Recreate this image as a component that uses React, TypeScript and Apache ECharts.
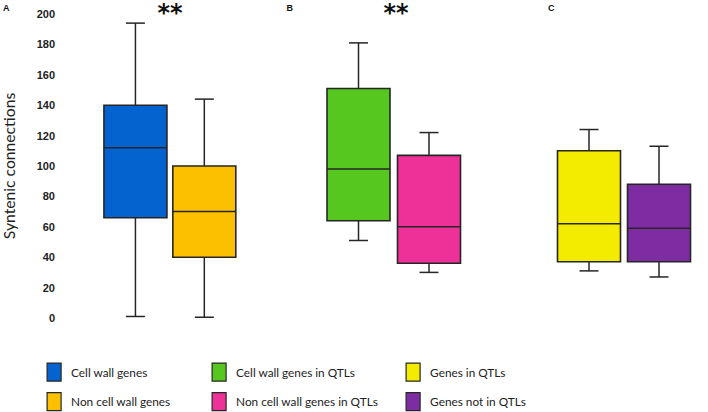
import React, { useEffect, useRef } from "react";
import * as echarts from "echarts";

// [min, Q1, median, Q3, max]
const seriesNames = [
  "Cell wall genes",
  "Non cell wall genes",
  "Cell wall genes in QTLs",
  "Non cell wall genes in QTLs",
  "Genes in QTLs",
  "Genes not in QTLs",
];
const cellWall = [1, 66, 112, 140, 194];
const nonCellWall = [0.5, 40, 70, 100, 144];
const cellWallQTL = [51, 64, 98, 151, 181];
const nonCellWallQTL = [30, 36, 60, 107, 122];
const genesQTL = [31, 37, 62, 110, 124];
const genesNotQTL = [27, 37, 59, 88, 113];
const seriesValues = [cellWall, nonCellWall, cellWallQTL, nonCellWallQTL, genesQTL, genesNotQTL];
const colors = ["#0563D0", "#FDC000", "#56C71E", "#EE3199", "#F3EB00", "#7E2CA1"];
const panelLabels = ["A", "B", "C"];
const yTicks = { min: 0, max: 200, interval: 20 };

const BORDER = "#262626";

function renderBox(params: any, api: any) {
  const x = api.value(0);
  const vals = [api.value(1), api.value(2), api.value(3), api.value(4), api.value(5)];
  const p = vals.map((v: number) => api.coord([x, v]));
  const cx = p[0][0];
  const boxW = 63;
  const capW = 19;
  const color = api.visual("color");
  const lineStyle = { stroke: BORDER, lineWidth: 1.5 };
  return {
    type: "group",
    children: [
      { type: "line", shape: { x1: cx, y1: p[4][1], x2: cx, y2: p[3][1] }, style: lineStyle },
      { type: "line", shape: { x1: cx, y1: p[1][1], x2: cx, y2: p[0][1] }, style: lineStyle },
      { type: "line", shape: { x1: cx - capW / 2, y1: p[4][1], x2: cx + capW / 2, y2: p[4][1] }, style: lineStyle },
      { type: "line", shape: { x1: cx - capW / 2, y1: p[0][1], x2: cx + capW / 2, y2: p[0][1] }, style: lineStyle },
      {
        type: "rect",
        shape: { x: cx - boxW / 2, y: p[3][1], width: boxW, height: p[1][1] - p[3][1] },
        style: { fill: color, stroke: BORDER, lineWidth: 1.6 },
      },
      { type: "line", shape: { x1: cx - boxW / 2, y1: p[2][1], x2: cx + boxW / 2, y2: p[2][1] }, style: lineStyle },
    ],
  };
}

export default function App() {
  const ref = useRef<HTMLDivElement>(null);
  useEffect(() => {
    if (!ref.current) return;
    const chart = echarts.init(ref.current, undefined, { renderer: "svg" });
    const grids = [
      { left: 97.75, width: 141, top: 14, height: 304 },
      { left: 323.25, width: 141, top: 14, height: 304 },
      { left: 554, width: 140, top: 14, height: 304 },
    ];
    const xAxes = grids.map((_, i) => ({
      type: "category",
      gridIndex: i,
      data: [seriesNames[i * 2], seriesNames[i * 2 + 1]],
      show: false,
    }));
    const yAxes = grids.map((_, i) => ({
      type: "value",
      gridIndex: i,
      min: yTicks.min,
      max: yTicks.max,
      interval: yTicks.interval,
      show: i === 0,
      name: i === 0 ? "Syntenic connections" : "",
      nameLocation: "middle",
      nameGap: 84,
      nameTextStyle: { fontFamily: "Lato", fontSize: 15.7, color: "#222" },
      axisLine: { show: false },
      axisTick: { show: false },
      splitLine: { show: false },
      axisLabel: {
        margin: 46,
        fontFamily: "Liberation Sans",
        fontWeight: "bold",
        fontSize: 11,
        color: "#222",
      },
    }));
    const series = seriesNames.map((name, i) => ({
      type: "custom",
      name,
      xAxisIndex: Math.floor(i / 2),
      yAxisIndex: Math.floor(i / 2),
      itemStyle: { color: colors[i], borderColor: BORDER, borderWidth: 1.2 },
      encode: { x: 0, y: [1, 2, 3, 4, 5] },
      data: [[i % 2, ...seriesValues[i]]],
      renderItem: renderBox,
    }));
    const legendLefts = [46.5, 211.5, 405.5];
    const legendTops = [362.5, 392];
    const legends = seriesNames.map((name, i) => ({
      data: [name],
      left: legendLefts[Math.floor(i / 2)],
      top: legendTops[i % 2],
      padding: 0,
      itemWidth: 14,
      itemHeight: 18,
      icon: "rect",
      itemStyle: { borderColor: BORDER, borderWidth: 1.2 },
      textStyle: { fontFamily: "Lato", fontSize: 11.8, color: "#222", padding: [0, 0, 0, 5] },
      selectedMode: false,
    }));
    const letterX = [3, 286.5, 548];
    const graphic: any[] = panelLabels.map((t, i) => ({
      type: "text",
      left: letterX[i],
      top: 3,
      style: { text: t, fontFamily: "Liberation Sans", fontWeight: "bold", fontSize: 9, fill: "#111" },
    }));
    [170, 396].forEach((cx) => {
      graphic.push({
        type: "text",
        x: cx,
        y: 1,
        style: {
          text: "**",
          fontFamily: "DejaVu Sans",
          fontWeight: "bold",
          fontSize: 24,
          lineHeight: 24,
          fill: "#111",
          align: "center",
          verticalAlign: "top",
        },
      });
    });
    chart.setOption({
      animation: false,
      grid: grids,
      xAxis: xAxes,
      yAxis: yAxes,
      series,
      legend: legends,
      graphic,
    });
    return () => chart.dispose();
  }, []);
  return <div ref={ref} style={{ width: 708, height: 412, position: "absolute", left: 0, top: 0 }} />;
}
